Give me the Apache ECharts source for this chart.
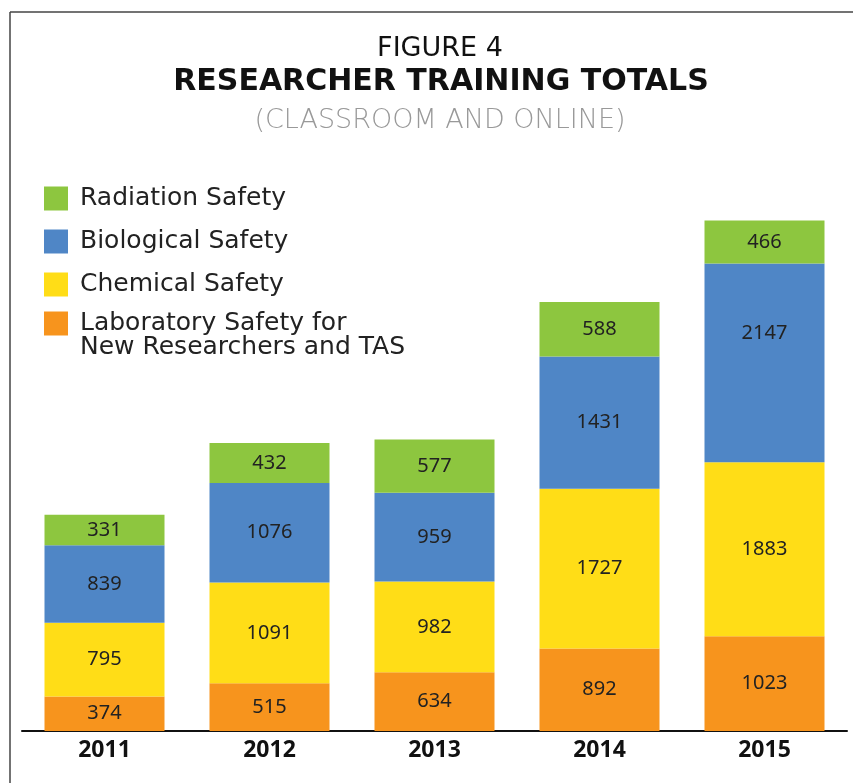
<!DOCTYPE html>
<html>
<head>
<meta charset="utf-8">
<script src="https://cdn.jsdelivr.net/npm/echarts@6/dist/echarts.min.js"></script>
<style>
html,body{margin:0;padding:0;background:#fff;}
#chart{width:853px;height:783px;}
</style>
</head>
<body>
<div id="chart"></div>
<script>
const years = ['2011', '2012', '2013', '2014', '2015'];
const laboratory = [374, 515, 634, 892, 1023];
const chemical = [795, 1091, 982, 1727, 1883];
const biological = [839, 1076, 959, 1431, 2147];
const radiation = [331, 432, 577, 588, 466];
const seriesNames = ['Laboratory Safety for New Researchers and TAS', 'Chemical Safety', 'Biological Safety', 'Radiation Safety'];
const legendLines = { 'Laboratory Safety for New Researchers and TAS': '\nLaboratory Safety for\nNew Researchers and TAS' };
const colors = ['#F7941D', '#FFDD17', '#4F86C6', '#8DC63F'];
const titleText = 'FIGURE 4';
const mainTitle = 'RESEARCHER TRAINING TOTALS';
const subTitle = '(CLASSROOM AND ONLINE)';

const FONT = "'Noto Sans', sans-serif";
const WIDE = "'DejaVu Sans', sans-serif";
const valueSets = [laboratory, chemical, biological, radiation];

const chart = echarts.init(document.getElementById('chart'), null, { renderer: 'canvas' });

const series = seriesNames.map((name, si) => ({
  name: name,
  type: 'bar',
  stack: 'total',
  barWidth: 120,
  itemStyle: { color: colors[si] },
  label: {
    show: true,
    position: 'inside',
    color: '#222',
    fontFamily: FONT,
    fontSize: 20
  },
  data: valueSets[si].map((v, i) => (si === 2 && i === 4) ? { value: v, label: { offset: [0, -30] } } : v)
}));

const legendText = { fontFamily: WIDE, fontSize: 25, color: '#222', lineHeight: 24, padding: [0, 0, 0, 7] };

chart.setOption({
  animation: false,
  backgroundColor: '#fff',
  title: [
    { text: titleText, left: 435, top: 30, textAlign: 'center',
      textStyle: { fontFamily: WIDE, fontSize: 27, fontWeight: 'normal', color: '#111' } },
    { text: mainTitle, left: 436, top: 62, textAlign: 'center',
      textStyle: { fontFamily: WIDE, fontSize: 30, fontWeight: 'bold', color: '#111' } },
    { text: subTitle, left: 435, top: 102, textAlign: 'center',
      textStyle: { fontFamily: WIDE, fontSize: 27, fontWeight: 200, color: '#999' } }
  ],
  legend: [
    {
      orient: 'vertical',
      left: 44,
      top: 186,
      padding: 0,
      itemWidth: 24,
      itemHeight: 24,
      itemGap: 18,
      icon: 'rect',
      selectedMode: false,
      textStyle: legendText,
      data: [seriesNames[3], seriesNames[2], seriesNames[1]]
    },
    {
      orient: 'vertical',
      left: 44,
      top: 287,
      padding: 0,
      itemWidth: 24,
      itemHeight: 24,
      icon: 'rect',
      selectedMode: false,
      textStyle: legendText,
      formatter: n => legendLines[n] || n,
      data: [seriesNames[0]]
    }
  ],
  graphic: [
    { type: 'line', shape: { x1: 10, y1: 12, x2: 853, y2: 12 }, style: { stroke: '#444', lineWidth: 1.5 } },
    { type: 'line', shape: { x1: 10, y1: 12, x2: 10, y2: 783 }, style: { stroke: '#444', lineWidth: 1.5 } }
  ],
  grid: { left: 22, right: 6, top: 176, bottom: 52 },
  xAxis: {
    type: 'category',
    data: years,
    axisTick: { show: false },
    axisLine: { lineStyle: { color: '#111', width: 2 } },
    axisLabel: { fontFamily: FONT, fontSize: 23, fontWeight: 'bold', color: '#111', margin: 8 }
  },
  yAxis: { type: 'value', min: 0, max: 6000, show: false, splitLine: { show: false } },
  series: series
});
</script>
</body>
</html>
